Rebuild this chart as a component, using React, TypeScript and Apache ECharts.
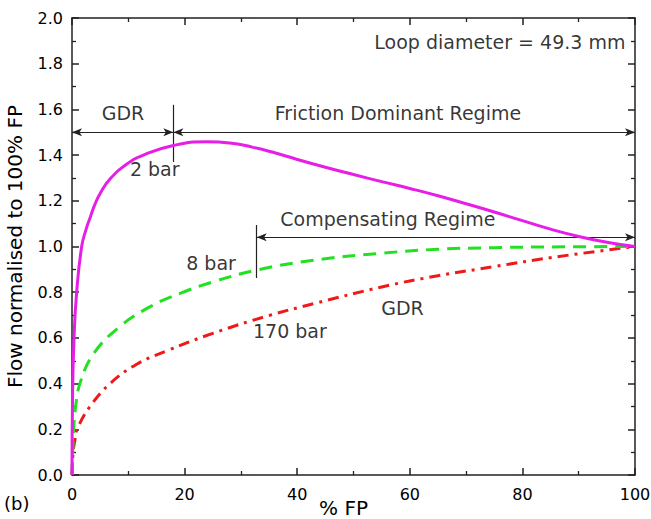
import React, { useEffect, useRef } from 'react';
import * as echarts from 'echarts';

const FONT = 'DejaVu Sans';

const xTickValues = [0, 20, 40, 60, 80, 100];

const flow2bar: [number, number][] = [
  [0, 0], [0.1, 0.35], [0.36, 0.6], [0.83, 0.8], [1.72, 1.0], [2.5, 1.075], [3.2, 1.125],
  [4, 1.18], [5, 1.232], [6.75, 1.295], [9.7, 1.36], [12.7, 1.4], [18, 1.442], [24, 1.458],
  [28, 1.453], [32, 1.435], [36, 1.41], [40, 1.381], [45, 1.347], [50, 1.315], [55, 1.284],
  [60, 1.254], [65, 1.222], [70, 1.187], [75, 1.151], [80, 1.113], [85, 1.076],
  [90, 1.044], [95, 1.019], [100, 1.0],
];

const flow8bar: [number, number][] = [
  [0, 0], [0.3, 0.2], [0.6, 0.29], [1.4, 0.4], [3.8, 0.53],
  [8.5, 0.65], [13.9, 0.737], [19.2, 0.795], [25, 0.845],
  [32.8, 0.897], [42.9, 0.94], [54.7, 0.97], [65, 0.988], [75, 0.995], [85, 0.998],
  [100, 1.0],
];

const flow170bar: [number, number][] = [
  [0, 0], [0.2, 0.1], [0.5, 0.15], [0.9, 0.2], [3.2, 0.3], [6.75, 0.4],
  [11.5, 0.485], [17, 0.545], [25, 0.62], [35, 0.698], [43, 0.75],
  [55, 0.823], [65, 0.872], [75, 0.912], [85.5, 0.953], [100, 1.0],
];

// double-headed arrows [start, end]
const arrowSegments: [number, number][][] = [
  [[0, 1.5], [18, 1.5]],
  [[18, 1.5], [100, 1.5]],
  [[32.8, 1.04], [100, 1.04]],
];

// plain boundary markers
const boundaryLines: [number, number][][] = [
  [[18, 1.62], [18, 1.37]],
  [[32.8, 1.094], [32.8, 0.862]],
];

const annotationTexts: [number, number, string][] = [
  [9.06, 1.584, 'GDR'],
  [57.9, 1.584, 'Friction Dominant Regime'],
  [14.7, 1.339, '2 bar'],
  [56.1, 1.12, 'Compensating Regime'],
  [24.7, 0.926, '8 bar'],
  [58.7, 0.733, 'GDR'],
  [38.7, 0.632, '170 bar'],
  [76.0, 1.896, 'Loop diameter = 49.3 mm'],
];

export default function App() {
  const ref = useRef<HTMLDivElement>(null);

  useEffect(() => {
    document.body.style.margin = '0';
    const chart = echarts.init(ref.current!, null, { renderer: 'svg' });

    const axisCommon: any = {
      type: 'value',
      axisLine: { show: true, onZero: false, lineStyle: { color: '#222', width: 1.5 } },
      axisTick: { show: true, inside: true, length: 7, lineStyle: { color: '#222', width: 1.5 } },
      minorTick: { show: true, splitNumber: 2, length: 4, lineStyle: { color: '#222', width: 1.3 } },
      splitLine: { show: false },
      minorSplitLine: { show: false },
    };

    const lineStyleMark = { color: '#222', width: 1.2, type: 'solid' as const };

    chart.setOption({
      animation: false,
      backgroundColor: '#fff',
      textStyle: { fontFamily: FONT },
      grid: {
        left: 72,
        right: 16,
        top: 18,
        bottom: 44,
        containLabel: false,
        outerBoundsMode: 'none',
      },
      xAxis: [
        {
          ...axisCommon,
          min: 0,
          max: 100,
          interval: 20,
          position: 'bottom',
          axisLabel: {
            fontSize: 16,
            color: '#000',
            margin: 11,
            fontFamily: FONT,
            customValues: xTickValues,
          },
          name: '% FP',
          nameLocation: 'middle',
          nameGap: 23,
          nameMoveOverlap: false,
          nameTextStyle: {
            fontSize: 20,
            color: '#000',
            fontFamily: FONT,
            lineHeight: 20,
            padding: [0, 20, 0, 0],
          },
        },
        {
          ...axisCommon,
          min: 0,
          max: 100,
          interval: 20,
          position: 'top',
          axisLabel: { show: false },
        },
      ],
      yAxis: [
        {
          ...axisCommon,
          min: 0,
          max: 2,
          interval: 0.2,
          position: 'left',
          axisLabel: {
            fontSize: 16,
            color: '#000',
            margin: 9,
            fontFamily: FONT,
            formatter: (v: number) => v.toFixed(1),
          },
          name: 'Flow normalised to 100% FP',
          nameLocation: 'middle',
          nameGap: 47,
          nameMoveOverlap: false,
          nameTextStyle: { fontSize: 20, color: '#000', fontFamily: FONT },
        },
        {
          ...axisCommon,
          min: 0,
          max: 2,
          interval: 0.2,
          position: 'right',
          axisLabel: { show: false },
        },
      ],
      graphic: [
        {
          type: 'text',
          left: 4,
          top: 494,
          style: { text: '(b)', fontSize: 18, fill: '#000', fontFamily: FONT },
        },
      ],
      series: [
        {
          name: '170 bar',
          type: 'line',
          data: flow170bar,
          showSymbol: false,
          smooth: 0.4,
          lineStyle: { color: '#ee1a1a', width: 3, type: [11, 6, 3, 6] },
          z: 3,
        },
        {
          name: '8 bar',
          type: 'line',
          data: flow8bar,
          showSymbol: false,
          smooth: 0.4,
          lineStyle: { color: '#22e022', width: 3, type: [13, 8] },
          z: 4,
        },
        {
          name: '2 bar',
          type: 'line',
          data: flow2bar,
          showSymbol: false,
          smooth: 0.5,
          lineStyle: { color: '#e61ee6', width: 3 },
          z: 5,
        },
        {
          name: 'annotations',
          type: 'line',
          data: [],
          silent: true,
          z: 6,
          markLine: {
            silent: true,
            animation: false,
            label: { show: false },
            emphasis: { disabled: true },
            data: [
              ...arrowSegments.map((seg) => [
                { coord: seg[0], symbol: 'arrow', symbolSize: [6, 10] },
                { coord: seg[1], symbol: 'arrow', symbolSize: [6, 10] },
              ]),
              ...boundaryLines.map((seg) => [
                { coord: seg[0], symbol: 'none' },
                { coord: seg[1], symbol: 'none' },
              ]),
            ],
            lineStyle: lineStyleMark,
          },
        },
        {
          name: 'labels',
          type: 'scatter',
          silent: true,
          symbolSize: 0,
          z: 7,
          data: annotationTexts.map((a) => ({
            value: [a[0], a[1]],
            label: { formatter: a[2] },
          })),
          label: {
            show: true,
            position: 'inside',
            fontSize: 19,
            color: '#000',
            fontFamily: FONT,
            align: 'center',
            verticalAlign: 'middle',
          },
        },
      ],
    });

    return () => chart.dispose();
  }, []);

  return <div ref={ref} style={{ width: 651, height: 519 }} />;
}
